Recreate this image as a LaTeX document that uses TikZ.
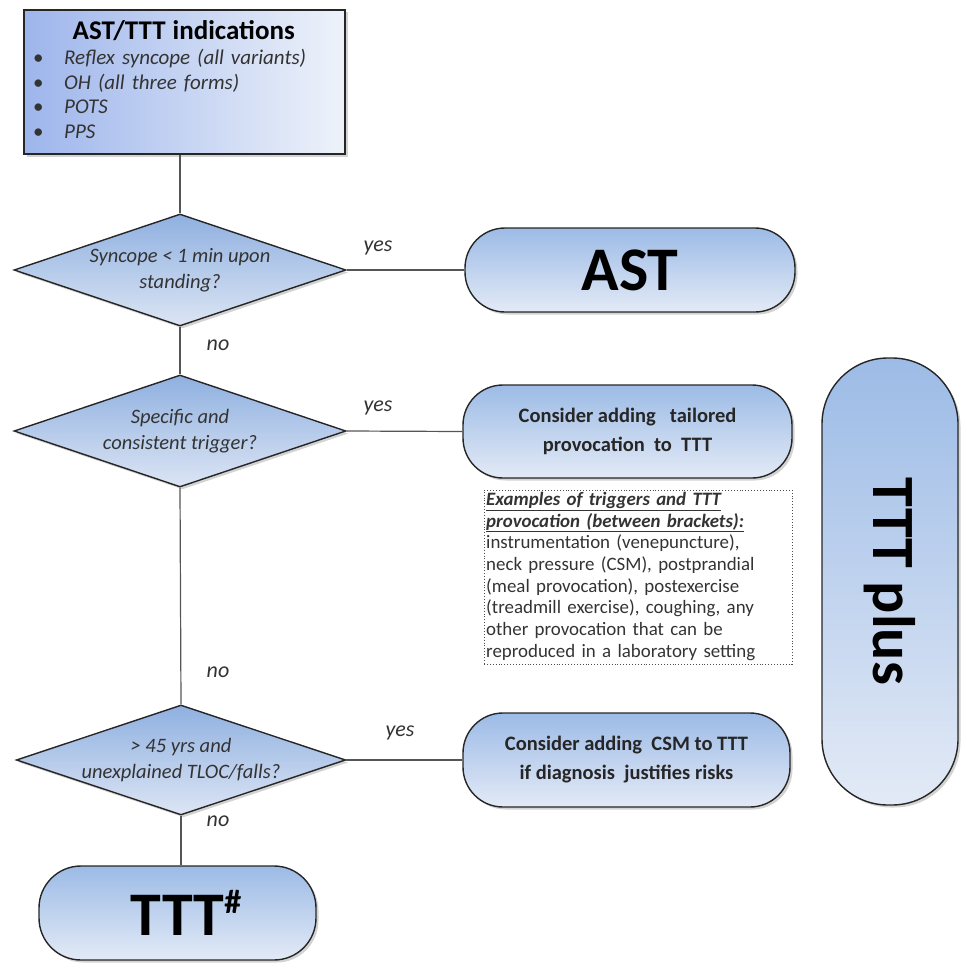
\documentclass[tikz,border=0pt]{standalone}
\usepackage{fontspec}
\setmainfont{Carlito}
\usetikzlibrary{shapes.geometric,shadows}
\definecolor{lineg}{HTML}{555555}
\definecolor{txtg}{HTML}{333333}
\definecolor{btop}{HTML}{9CBBE6}
\definecolor{bbot}{HTML}{E3EAF6}
\definecolor{dtop}{HTML}{8FB0E0}
\definecolor{dbot}{HTML}{DCE5F4}
\begin{document}
\begin{tikzpicture}[x=1pt,y=-1pt,
  shp/.style={draw=black!85, line width=1.4pt,
    drop shadow={shadow xshift=2.5pt,shadow yshift=-2.5pt,opacity=.35}},
  pillbox/.style={shp, rectangle, top color=btop, bottom color=bbot, align=center, inner sep=0pt},
  dia/.style={shp, diamond, aspect=3, inner sep=0pt, minimum width=332pt, minimum height=112pt,
    top color=dtop, bottom color=dbot, align=center, text=txtg,
    font={\fontsize{20.5}{26}\selectfont\itshape}},
  lbl/.style={font={\fontsize{22}{24}\selectfont\itshape}, text=txtg, inner sep=0pt},
  conn/.style={draw=lineg, line width=1.2pt}
]
\useasboundingbox (0,0) rectangle (966,971);

% top indications box
\node[shp, rectangle, left color=btop!90!blue!85, right color=bbot!60!white,
  minimum width=321pt, minimum height=144pt, inner sep=0pt] (ind) at (184.5,82) {};
\node[anchor=north west, inner sep=0pt, text width=310pt, align=left, text=txtg,
  font={\fontsize{21}{24.5}\selectfont}] (indtxt) at (33,20)
  {\makebox[301pt][c]{\color{black}\fontsize{27}{28}\selectfont\bfseries AST/TTT indications}\\[1pt]
   \makebox[31pt][l]{•}\textit{Reflex syncope (all variants)}\\
   \makebox[31pt][l]{•}\textit{OH (all three forms)}\\
   \makebox[31pt][l]{•}\textit{POTS}\\
   \makebox[31pt][l]{•}\textit{PPS}};

% diamonds
\node[dia] (d1) at (180,270) {Syncope < 1 min upon\\standing?};
\node[dia] (d2) at (180,431) {Specific and\\consistent trigger?};
\node[dia, minimum width=324pt, minimum height=110pt] (d3) at (181,760) {> 45 yrs and\\unexplained TLOC/falls?};

% outcome boxes
\node[pillbox, rounded corners=40pt, minimum width=330pt, minimum height=84pt,
  font={\fontsize{62}{62}\selectfont\bfseries}] (ast) at (630,270) {AST};
\node[pillbox, rounded corners=40pt, minimum width=329pt, minimum height=93pt, text=black!85,
  font={\fontsize{20.5}{29}\selectfont\bfseries}] (prov) at (627.5,431.5)
  {Consider adding\hspace{14pt}tailored\\provocation \ to \ TTT};
\node[pillbox, rounded corners=40pt, minimum width=327pt, minimum height=94pt, text=black!85,
  font={\fontsize{20.5}{29}\selectfont\bfseries}] (csm) at (626.5,760)
  {Consider adding \ CSM to TTT\\if diagnosis \ justifies risks};
\node[pillbox, rounded corners=42pt, minimum width=277pt, minimum height=94pt,
  font={\fontsize{62}{62}\selectfont\bfseries}] (ttt) at (177.5,913)
  {TTT\rlap{\raisebox{22pt}{\fontsize{34}{34}\selectfont\#}}};
\node[pillbox, rounded corners=66pt, minimum width=136pt, minimum height=447pt] (plus) at (890,581.5) {};
\node[rotate=-90, inner sep=0pt, font={\fontsize{60}{60}\selectfont\bfseries}] (plustxt) at (plus.center) {TTT plus};

% examples box
\node[draw=black!70, dotted, line width=0.9pt, rectangle, minimum width=308pt, minimum height=174pt,
  inner sep=0pt] (ex) at (638,577) {};
\node[anchor=north west, inner sep=0pt, text width=305pt, align=left, text=txtg,
  font={\fontsize{18.9}{21.7}\selectfont}] (extxt) at (486,492)
  {\textbf{\textit{\underline{Examples of triggers and TTT}}}\\
   \textbf{\textit{\underline{provocation (between brackets):}}}\\
   instrumentation (venepuncture),\\
   neck pressure (CSM), postprandial\\
   (meal provocation), postexercise\\
   (treadmill exercise), coughing, any\\
   other provocation that can be\\
   reproduced in a laboratory setting};

% connectors
\draw[conn] (d1.north |- ind.south) -- (d1.north);
\draw[conn] (d1.east) -- (ast.west);
\draw[conn] (d1.south) -- (d2.north);
\draw[conn] (d2.east) -- (prov.west);
\draw[conn] (d2.south) -- (d3.north);
\draw[conn] (d3.east) -- (csm.west);
\draw[conn] (d3.south) -- (d3.south |- ttt.north);

% labels
\node[lbl] (y1) at (378,248) {yes};
\node[lbl] (y2) at (378,408) {yes};
\node[lbl] (y3) at (400,733) {yes};
\node[lbl] (n1) at (218,345) {no};
\node[lbl] (n2) at (218,672) {no};
\node[lbl] (n3) at (218,821) {no};
\end{tikzpicture}
\end{document}
